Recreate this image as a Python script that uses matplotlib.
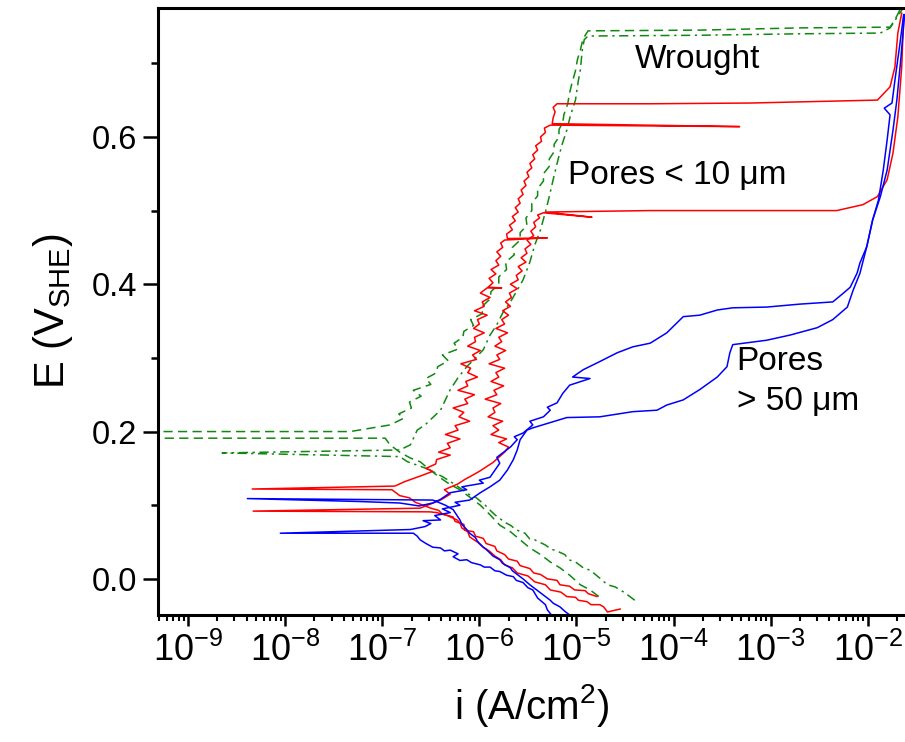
import numpy as np
import matplotlib
matplotlib.use("Agg")
import matplotlib.pyplot as plt
from matplotlib.ticker import FixedLocator, LogLocator, NullFormatter

plt.rcParams['font.family'] = ['Liberation Sans', 'DejaVu Sans']
plt.rcParams['mathtext.fontset'] = 'custom'
plt.rcParams['mathtext.rm'] = 'Liberation Sans'
plt.rcParams['mathtext.it'] = 'Liberation Sans'
plt.rcParams['mathtext.default'] = 'regular'

# polarisation curves as (log10(i / A cm^-2), E / V_SHE) pairs, in scan order
red1 = [(-4.79, -0.024), (-4.88, -0.020), (-4.91, -0.016), (-5.02, -0.015), (-5.07, -0.010),
        (-5.17, -0.008), (-5.20, -0.002), (-5.30, 0.000), (-5.37, 0.006), (-5.44, 0.008),
        (-5.48, 0.014), (-5.58, 0.018), (-5.61, 0.024), (-5.70, 0.027), (-5.74, 0.033),
        (-5.82, 0.038), (-5.84, 0.044), (-5.93, 0.048), (-5.96, 0.055), (-6.04, 0.058),
        (-6.06, 0.064), (-6.15, 0.066), (-6.16, 0.074), (-6.25, 0.078), (-6.27, 0.084),
        (-6.38, 0.088), (-6.42, 0.093), (-6.50, 0.096), (-6.58, 0.100), (-6.66, 0.104),
        (-6.72, 0.110), (-6.82, 0.113), (-6.88, 0.119), (-6.90, 0.121), (-8.34, 0.122),
        (-6.87, 0.126), (-6.77, 0.132), (-6.60, 0.140), (-6.48, 0.146), (-6.55, 0.150),
        (-6.45, 0.156), (-6.44, 0.162), (-6.30, 0.168), (-6.42, 0.172), (-6.30, 0.178),
        (-6.33, 0.184), (-6.20, 0.190), (-6.35, 0.196), (-6.22, 0.202), (-6.25, 0.208),
        (-6.10, 0.214), (-6.21, 0.220), (-6.16, 0.226), (-6.27, 0.232), (-6.12, 0.238),
        (-6.15, 0.244), (-6.05, 0.250), (-6.22, 0.256), (-6.12, 0.262), (-6.14, 0.268),
        (-6.02, 0.274), (-6.12, 0.280), (-6.09, 0.286), (-6.19, 0.292), (-6.03, 0.298),
        (-6.07, 0.304), (-5.99, 0.310), (-6.12, 0.316), (-6.04, 0.322), (-6.05, 0.328),
        (-5.95, 0.334), (-6.06, 0.340), (-6.00, 0.346), (-6.02, 0.352), (-5.92, 0.358),
        (-6.05, 0.364), (-5.95, 0.370), (-5.97, 0.376), (-5.89, 0.382), (-5.99, 0.388),
        (-5.92, 0.395), (-5.77, 0.395), (-5.91, 0.396), (-5.86, 0.402), (-5.90, 0.408),
        (-5.83, 0.414), (-5.88, 0.420), (-5.80, 0.426), (-5.83, 0.432), (-5.78, 0.438),
        (-5.82, 0.444), (-5.76, 0.450), (-5.78, 0.456), (-5.74, 0.460), (-5.30, 0.463),
        (-5.71, 0.462), (-5.72, 0.468), (-5.66, 0.474), (-5.69, 0.480), (-5.63, 0.486),
        (-5.66, 0.492), (-5.60, 0.498), (-5.63, 0.504), (-5.58, 0.510), (-5.60, 0.516),
        (-5.55, 0.522), (-5.57, 0.528), (-5.52, 0.534), (-5.54, 0.540), (-5.49, 0.546),
        (-5.51, 0.552), (-5.46, 0.558), (-5.48, 0.564), (-5.43, 0.570), (-5.45, 0.576),
        (-5.40, 0.582), (-5.42, 0.588), (-5.36, 0.594), (-5.37, 0.600), (-5.32, 0.606),
        (-5.33, 0.612), (-5.27, 0.616), (-3.32, 0.614), (-5.25, 0.618), (-5.24, 0.626),
        (-5.22, 0.634), (-5.24, 0.640), (-5.20, 0.645), (-4.24, 0.645), (-3.21, 0.646),
        (-1.90, 0.650), (-1.77, 0.668), (-1.72, 0.695), (-1.69, 0.741), (-1.65, 0.768)]

red2 = [(-4.55, -0.041), (-4.62, -0.043), (-4.68, -0.045), (-4.72, -0.038), (-4.76, -0.035),
        (-4.85, -0.035), (-4.89, -0.031), (-4.98, -0.029), (-5.01, -0.025), (-5.10, -0.024),
        (-5.16, -0.018), (-5.27, -0.015), (-5.32, -0.008), (-5.43, -0.004), (-5.50, 0.004),
        (-5.61, 0.008), (-5.66, 0.015), (-5.74, 0.019), (-5.78, 0.026), (-5.84, 0.031),
        (-5.90, 0.038), (-5.96, 0.043), (-6.02, 0.050), (-6.10, 0.057), (-6.12, 0.064),
        (-6.18, 0.069), (-6.20, 0.076), (-6.23, 0.080), (-6.33, 0.086), (-6.44, 0.090),
        (-6.51, 0.091), (-8.33, 0.092), (-6.61, 0.096), (-6.40, 0.107), (-6.30, 0.115),
        (-6.36, 0.121), (-6.22, 0.129), (-6.15, 0.135), (-6.08, 0.140), (-6.00, 0.146),
        (-5.93, 0.152), (-5.86, 0.158), (-5.80, 0.165), (-5.74, 0.172), (-5.70, 0.179),
        (-5.80, 0.185), (-5.72, 0.190), (-5.88, 0.196), (-5.80, 0.202), (-5.86, 0.208),
        (-5.76, 0.214), (-5.91, 0.220), (-5.84, 0.226), (-5.86, 0.232), (-5.78, 0.238),
        (-5.94, 0.244), (-5.82, 0.250), (-5.85, 0.256), (-5.75, 0.262), (-5.88, 0.268),
        (-5.80, 0.274), (-5.83, 0.280), (-5.74, 0.286), (-5.90, 0.292), (-5.79, 0.298),
        (-5.82, 0.304), (-5.73, 0.310), (-5.84, 0.316), (-5.77, 0.322), (-5.80, 0.328),
        (-5.71, 0.334), (-5.83, 0.340), (-5.74, 0.346), (-5.77, 0.352), (-5.70, 0.358),
        (-5.76, 0.364), (-5.68, 0.370), (-5.73, 0.376), (-5.67, 0.382), (-5.69, 0.388),
        (-5.61, 0.394), (-5.68, 0.400), (-5.60, 0.406), (-5.62, 0.412), (-5.56, 0.418),
        (-5.60, 0.424), (-5.52, 0.430), (-5.57, 0.436), (-5.51, 0.442), (-5.53, 0.448),
        (-5.47, 0.454), (-5.51, 0.460), (-5.44, 0.466), (-5.47, 0.472), (-5.42, 0.478),
        (-5.44, 0.484), (-5.38, 0.490), (-5.40, 0.494), (-5.34, 0.497), (-4.84, 0.491),
        (-5.32, 0.498), (-4.24, 0.500), (-3.21, 0.500), (-2.32, 0.500), (-2.05, 0.508),
        (-1.90, 0.519), (-1.80, 0.542), (-1.74, 0.578), (-1.69, 0.627), (-1.65, 0.695),
        (-1.63, 0.763)]

blue1 = [(-5.04, -0.052), (-5.12, -0.044), (-5.17, -0.038), (-5.24, -0.033), (-5.27, -0.029),
         (-5.35, -0.021), (-5.37, -0.019), (-5.45, -0.011), (-5.48, -0.008), (-5.55, 0.000),
         (-5.58, 0.003), (-5.66, 0.011), (-5.68, 0.015), (-5.76, 0.021), (-5.79, 0.026),
         (-5.86, 0.031), (-5.89, 0.035), (-5.93, 0.040), (-5.96, 0.043), (-6.02, 0.051),
         (-6.04, 0.056), (-6.10, 0.062), (-6.13, 0.067), (-6.18, 0.074), (-6.20, 0.080),
         (-6.24, 0.088), (-6.27, 0.094), (-6.35, 0.100), (-6.44, 0.105), (-6.48, 0.107),
         (-8.39, 0.109), (-7.23, 0.105), (-6.82, 0.103), (-6.62, 0.099), (-6.48, 0.103),
         (-6.40, 0.108), (-6.30, 0.117), (-6.13, 0.121), (-6.18, 0.125), (-5.96, 0.130),
         (-6.00, 0.134), (-5.89, 0.138), (-5.79, 0.157), (-5.82, 0.165), (-5.68, 0.179),
         (-5.61, 0.189), (-5.64, 0.193), (-5.55, 0.198), (-5.45, 0.209), (-5.48, 0.214),
         (-5.34, 0.220), (-5.27, 0.229), (-5.30, 0.233), (-5.20, 0.239), (-5.14, 0.252),
         (-5.07, 0.263), (-4.86, 0.272), (-5.04, 0.274), (-4.93, 0.284), (-4.76, 0.295),
         (-4.58, 0.307), (-4.42, 0.315), (-4.24, 0.320), (-4.07, 0.334), (-3.90, 0.356),
         (-3.73, 0.358), (-3.55, 0.365), (-3.39, 0.368), (-3.04, 0.369), (-2.70, 0.373),
         (-2.36, 0.376), (-2.25, 0.388), (-2.18, 0.396), (-2.11, 0.415), (-2.08, 0.429),
         (-2.01, 0.451), (-1.95, 0.487), (-1.87, 0.519), (-1.80, 0.555), (-1.74, 0.609),
         (-1.70, 0.650), (-1.66, 0.705), (-1.62, 0.766)]

blue2 = [(-5.24, -0.052), (-5.30, -0.042), (-5.32, -0.035), (-5.40, -0.026), (-5.45, -0.015),
         (-5.50, -0.012), (-5.55, -0.005), (-5.62, -0.002), (-5.65, 0.003), (-5.72, 0.005),
         (-5.79, 0.010), (-5.84, 0.011), (-5.89, 0.016), (-5.95, 0.016), (-5.99, 0.019),
         (-6.08, 0.022), (-6.13, 0.026), (-6.20, 0.025), (-6.27, 0.030), (-6.22, 0.034),
         (-6.30, 0.039), (-6.36, 0.038), (-6.40, 0.042), (-6.48, 0.043), (-6.55, 0.048),
         (-6.61, 0.053), (-6.64, 0.058), (-6.68, 0.062), (-8.05, 0.062), (-6.71, 0.067),
         (-6.56, 0.071), (-6.50, 0.075), (-6.58, 0.079), (-6.40, 0.080), (-6.46, 0.086),
         (-6.30, 0.090), (-6.38, 0.095), (-6.20, 0.100), (-6.25, 0.104), (-6.10, 0.107),
         (-5.99, 0.117), (-5.89, 0.125), (-5.79, 0.134), (-5.71, 0.148), (-5.65, 0.162),
         (-5.61, 0.175), (-5.58, 0.189), (-5.51, 0.202), (-5.45, 0.205), (-5.10, 0.219),
         (-4.76, 0.220), (-4.42, 0.227), (-4.17, 0.229), (-4.07, 0.236), (-3.90, 0.243),
         (-3.73, 0.257), (-3.55, 0.274), (-3.45, 0.288), (-3.42, 0.307), (-3.39, 0.318),
         (-3.04, 0.324), (-2.80, 0.331), (-2.52, 0.341), (-2.36, 0.352), (-2.21, 0.369),
         (-2.15, 0.392), (-2.08, 0.415), (-2.01, 0.451), (-1.95, 0.487), (-1.89, 0.514),
         (-1.84, 0.555), (-1.80, 0.596), (-1.77, 0.630), (-1.83, 0.639), (-1.75, 0.646),
         (-1.72, 0.677), (-1.67, 0.725), (-1.63, 0.766)]

green1 = [(-4.77, -0.024), (-4.86, -0.015), (-4.96, -0.008), (-5.07, 0.005), (-5.17, 0.015),
          (-5.27, 0.023), (-5.37, 0.033), (-5.48, 0.042), (-5.58, 0.053), (-5.68, 0.064),
          (-5.79, 0.073), (-5.89, 0.087), (-5.99, 0.100), (-6.10, 0.111), (-6.20, 0.121),
          (-6.30, 0.128), (-6.40, 0.137), (-6.51, 0.148), (-6.61, 0.159), (-6.71, 0.164),
          (-6.82, 0.172), (-6.92, 0.182), (-6.97, 0.191), (-9.39, 0.191), (-9.39, 0.200),
          (-7.33, 0.200), (-6.92, 0.209), (-6.78, 0.218), (-6.83, 0.224), (-6.70, 0.232),
          (-6.72, 0.240), (-6.60, 0.248), (-6.68, 0.256), (-6.50, 0.264), (-6.55, 0.272),
          (-6.44, 0.280), (-6.43, 0.288), (-6.32, 0.296), (-6.38, 0.304), (-6.22, 0.312),
          (-6.26, 0.320), (-6.17, 0.328), (-6.16, 0.336), (-6.06, 0.344), (-6.09, 0.352),
          (-5.97, 0.360), (-5.97, 0.370), (-5.89, 0.380), (-5.88, 0.390), (-5.80, 0.400),
          (-5.80, 0.410), (-5.72, 0.420), (-5.73, 0.430), (-5.64, 0.440), (-5.66, 0.450),
          (-5.58, 0.460), (-5.58, 0.470), (-5.51, 0.480), (-5.52, 0.490), (-5.46, 0.500),
          (-5.46, 0.510), (-5.40, 0.520), (-5.40, 0.530), (-5.34, 0.540), (-5.34, 0.550),
          (-5.28, 0.560), (-5.28, 0.570), (-5.23, 0.580), (-5.23, 0.590), (-5.18, 0.600),
          (-5.18, 0.610), (-5.14, 0.620), (-5.13, 0.630), (-5.09, 0.645), (-5.07, 0.660),
          (-5.05, 0.671), (-5.01, 0.690), (-4.99, 0.705), (-4.96, 0.718), (-4.94, 0.729),
          (-4.91, 0.738), (-4.88, 0.744), (-3.73, 0.745), (-2.70, 0.748), (-1.77, 0.749),
          (-1.72, 0.759), (-1.67, 0.772), (-1.62, 0.782)]

green2 = [(-4.40, -0.029), (-4.50, -0.019), (-4.60, -0.011), (-4.68, -0.008), (-4.76, 0.001),
          (-4.86, 0.012), (-4.92, 0.014), (-5.01, 0.023), (-5.08, 0.026), (-5.12, 0.033),
          (-5.22, 0.039), (-5.26, 0.040), (-5.32, 0.046), (-5.43, 0.053), (-5.48, 0.054),
          (-5.53, 0.062), (-5.63, 0.067), (-5.67, 0.072), (-5.74, 0.077), (-5.84, 0.087),
          (-5.88, 0.092), (-5.94, 0.100), (-6.04, 0.111), (-6.08, 0.112), (-6.13, 0.117),
          (-6.25, 0.128), (-6.37, 0.138), (-6.51, 0.148), (-6.61, 0.153), (-6.74, 0.159),
          (-6.82, 0.166), (-8.65, 0.171), (-6.82, 0.175), (-6.71, 0.182), (-6.64, 0.202),
          (-6.56, 0.209), (-6.40, 0.229), (-6.35, 0.243), (-6.30, 0.257), (-6.22, 0.273),
          (-6.13, 0.288), (-6.04, 0.300), (-5.96, 0.311), (-5.89, 0.331), (-5.82, 0.345),
          (-5.76, 0.361), (-5.68, 0.376), (-5.61, 0.392), (-5.55, 0.406), (-5.48, 0.430),
          (-5.43, 0.453), (-5.37, 0.474), (-5.32, 0.498), (-5.28, 0.519), (-5.24, 0.542),
          (-5.19, 0.569), (-5.15, 0.589), (-5.10, 0.609), (-5.06, 0.630), (-5.01, 0.650),
          (-4.98, 0.677), (-4.96, 0.691), (-4.94, 0.718), (-4.92, 0.732), (-4.88, 0.737),
          (-3.73, 0.738), (-2.70, 0.740), (-1.87, 0.741), (-1.77, 0.748), (-1.70, 0.762),
          (-1.62, 0.778)]

x_major = [1e-9, 1e-8, 1e-7, 1e-6, 1e-5, 1e-4, 1e-3, 1e-2]
y_major = [0.0, 0.2, 0.4, 0.6]
y_minor = [0.1, 0.3, 0.5, 0.7]

red = '#ff0000'
blue = '#0000ff'
green = '#118811'


def draw(ax, pts, **kw):
    logi, E = np.array(pts).T
    ax.plot(10**logi, E, **kw)


fig = plt.figure(figsize=(9.05, 7.42), dpi=100)
ax = fig.add_axes([0.1746, 0.1712, 0.8254, 0.818])

lw = 1.1
draw(ax, green1, color=green, lw=lw, dashes=(6, 3.5))
draw(ax, green2, color=green, lw=lw, dashes=(6, 3, 1.5, 3))
draw(ax, red1, color=red, lw=lw)
draw(ax, red2, color=red, lw=lw)
draw(ax, blue1, color=blue, lw=lw)
draw(ax, blue2, color=blue, lw=lw)

ax.set_xscale('log')
ax.set_xlim(4.9e-10, 2.42e-2)
ax.set_ylim(-0.049, 0.775)

ax.xaxis.set_major_locator(FixedLocator(x_major))
ax.xaxis.set_minor_locator(LogLocator(base=10, subs=np.arange(2, 10), numticks=100))
ax.xaxis.set_minor_formatter(NullFormatter())
ax.yaxis.set_major_locator(FixedLocator(y_major))
ax.yaxis.set_minor_locator(FixedLocator(y_minor))
ax.yaxis.set_major_formatter(plt.FuncFormatter(lambda v, p: f'{v:.1f}'))

for s in ['left', 'bottom', 'top']:
    ax.spines[s].set_linewidth(2.2)
ax.spines['right'].set_visible(False)

ax.tick_params(axis='y', which='major', direction='out', length=11, width=1.8, labelsize=23.5, pad=4)
ax.tick_params(axis='y', which='minor', direction='out', length=5, width=1.8)
ax.tick_params(axis='x', which='major', direction='out', length=8, width=1.8, labelsize=26, pad=5)
ax.tick_params(axis='x', which='minor', direction='out', length=4.5, width=1.5)

ax.set_xlabel('i (A/cm$^2$)', fontsize=29, labelpad=9)
ax.set_ylabel('E (V$_{SHE}$)', fontsize=30, labelpad=12)

ax.text(10**-4.40, 0.705, 'Wrought', fontsize=24, va='center', ha='left')
ax.text(10**-5.09, 0.548, 'Pores < 10 μm', fontsize=24, va='center', ha='left')
ax.text(10**-3.35, 0.268, 'Pores\n> 50 μm', fontsize=24, va='center', ha='left', linespacing=1.4)

fig.savefig('out.png', dpi=100)
